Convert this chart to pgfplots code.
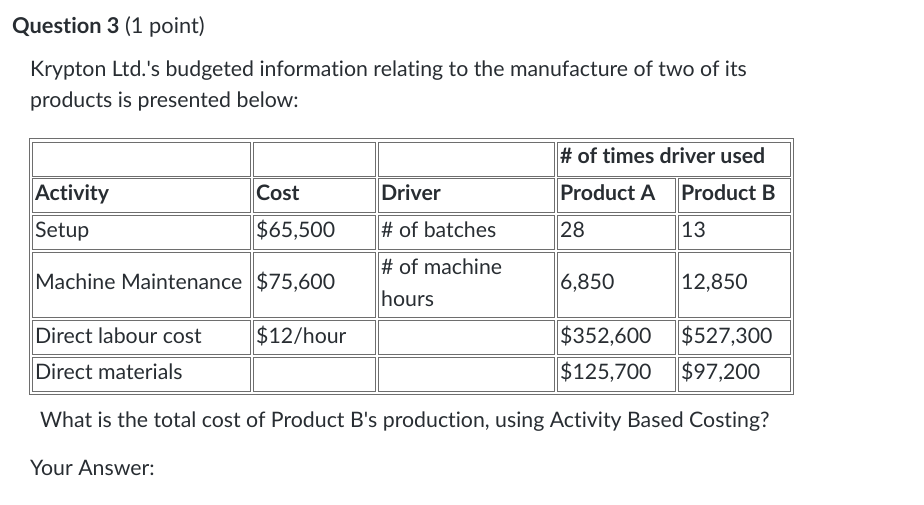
\documentclass[border=0pt]{standalone}
\usepackage{pgfplots}
\pgfplotsset{compat=1.18}
\usepackage{fontspec}
\setmainfont{Lato}[Ligatures={TeX,NoCommon}]
\definecolor{txt}{RGB}{40,45,50}
\definecolor{rule}{RGB}{110,110,110}
\newcommand{\bodyfont}{\fontsize{21.3}{25}\selectfont}

\begin{document}
\begin{tikzpicture}
\begin{axis}[
  width=924pt, height=505pt, scale only axis,
  xmin=0, xmax=924, ymin=0, ymax=505, y dir=reverse,
  axis lines=none, clip=false,
]
\path (axis cs:0,0) rectangle (axis cs:924,505);
% heading and intro
\node[anchor=base west,inner sep=0pt,text=txt,font=\fontsize{21.8}{25}\selectfont] at (axis cs:12,34)
  {\textbf{Question 3} (1 point)};
\node[anchor=base west,inner sep=0pt,text=txt,font=\bodyfont] at (axis cs:30,77)
  {Krypton Ltd.\textquotesingle s budgeted information relating to the manufacture of two of its};
\node[anchor=base west,inner sep=0pt,text=txt,font=\bodyfont] at (axis cs:30,108)
  {products is presented below:};

% table borders
\draw[rule] (axis cs:29,138) rectangle (axis cs:793,394);
\draw[rule] (axis cs:32,142) rectangle (axis cs:250,176);
\draw[rule] (axis cs:253,142) rectangle (axis cs:375,176);
\draw[rule] (axis cs:378,142) rectangle (axis cs:554,176);
\draw[rule] (axis cs:557,142) rectangle (axis cs:790,176);
% row 2
\draw[rule] (axis cs:32,178) rectangle (axis cs:250,212);
\draw[rule] (axis cs:253,178) rectangle (axis cs:375,212);
\draw[rule] (axis cs:378,178) rectangle (axis cs:554,212);
\draw[rule] (axis cs:557,178) rectangle (axis cs:675,212);
\draw[rule] (axis cs:678,178) rectangle (axis cs:790,212);
% row 3
\draw[rule] (axis cs:32,215) rectangle (axis cs:250,249);
\draw[rule] (axis cs:253,215) rectangle (axis cs:375,249);
\draw[rule] (axis cs:378,215) rectangle (axis cs:554,249);
\draw[rule] (axis cs:557,215) rectangle (axis cs:675,249);
\draw[rule] (axis cs:678,215) rectangle (axis cs:790,249);
% row 4
\draw[rule] (axis cs:32,252) rectangle (axis cs:250,317);
\draw[rule] (axis cs:253,252) rectangle (axis cs:375,317);
\draw[rule] (axis cs:378,252) rectangle (axis cs:554,317);
\draw[rule] (axis cs:557,252) rectangle (axis cs:675,317);
\draw[rule] (axis cs:678,252) rectangle (axis cs:790,317);
% row 5
\draw[rule] (axis cs:32,320) rectangle (axis cs:250,354);
\draw[rule] (axis cs:253,320) rectangle (axis cs:375,354);
\draw[rule] (axis cs:378,320) rectangle (axis cs:554,354);
\draw[rule] (axis cs:557,320) rectangle (axis cs:675,354);
\draw[rule] (axis cs:678,320) rectangle (axis cs:790,354);
% row 6
\draw[rule] (axis cs:32,357) rectangle (axis cs:250,391);
\draw[rule] (axis cs:253,357) rectangle (axis cs:375,391);
\draw[rule] (axis cs:378,357) rectangle (axis cs:554,391);
\draw[rule] (axis cs:557,357) rectangle (axis cs:675,391);
\draw[rule] (axis cs:678,357) rectangle (axis cs:790,391);

% table text
\begin{scope}[every node/.style={anchor=base west,inner sep=0pt,text=txt,font=\bodyfont}]
\node at (axis cs:560,164) {\textbf{\# of times driver used}};
\node at (axis cs:35,201) {\textbf{Activity}};
\node at (axis cs:256,201) {\textbf{Cost}};
\node at (axis cs:381,201) {\textbf{Driver}};
\node at (axis cs:560,201) {\textbf{Product A}};
\node at (axis cs:681,201) {\textbf{Product B}};
\node at (axis cs:35,238) {Setup};
\node at (axis cs:256,238) {\$65,500};
\node at (axis cs:381,238) {\# of batches};
\node at (axis cs:560,238) {28};
\node at (axis cs:681,238) {13};
\node at (axis cs:35,290) {Machine Maintenance};
\node at (axis cs:256,290) {\$75,600};
\node at (axis cs:381,275) {\# of machine};
\node at (axis cs:381,306) {hours};
\node at (axis cs:560,290) {6,850};
\node at (axis cs:681,290) {12,850};
\node at (axis cs:35,343) {Direct labour cost};
\node at (axis cs:256,343) {\$12/hour};
\node at (axis cs:560,343) {\$352,600};
\node at (axis cs:681,343) {\$527,300};
\node at (axis cs:35,379) {Direct materials};
\node at (axis cs:560,379) {\$125,700};
\node at (axis cs:681,379) {\$97,200};
\end{scope}

\node[anchor=base west,inner sep=0pt,text=txt,font=\bodyfont] at (axis cs:40,427)
  {What is the total cost of Product B\textquotesingle s production, using Activity Based Costing?};
\node[anchor=base west,inner sep=0pt,text=txt,font=\bodyfont] at (axis cs:30,475)
  {Your Answer:};
\end{axis}
\end{tikzpicture}
\end{document}
